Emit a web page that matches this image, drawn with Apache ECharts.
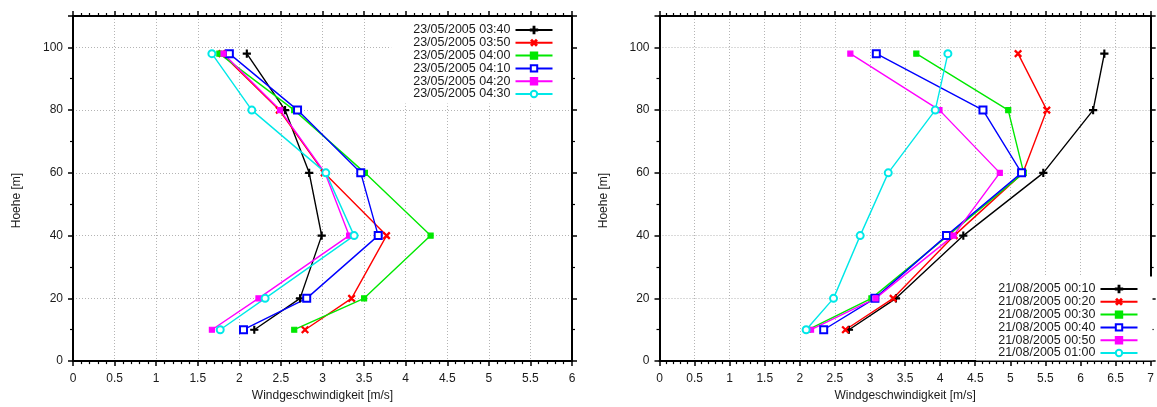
<!DOCTYPE html>
<html>
<head>
<meta charset="utf-8">
<script src="https://cdn.jsdelivr.net/npm/echarts@6/dist/echarts.min.js"></script>
<style>
  html, body { margin: 0; padding: 0; background: #fff; }
  #chart { width: 1157px; height: 407px; }
</style>
</head>
<body>
<div id="chart"></div>
<script>
// Measurement heights (m)
const HEIGHTS = [10, 20, 40, 60, 80, 98];

// 23/05/2005 wind speed profiles (m/s), one value per height
const MAY_LABELS = ['23/05/2005 03:40', '23/05/2005 03:50', '23/05/2005 04:00',
                    '23/05/2005 04:10', '23/05/2005 04:20', '23/05/2005 04:30'];
const MAY_0340 = [2.18, 2.73, 2.99, 2.84, 2.55, 2.09];
const MAY_0350 = [2.79, 3.35, 3.77, 3.02, 2.48, 1.79];
const MAY_0400 = [2.66, 3.50, 4.30, 3.51, 2.66, 1.76];
const MAY_0410 = [2.05, 2.81, 3.67, 3.46, 2.70, 1.88];
const MAY_0420 = [1.67, 2.23, 3.32, 3.03, 2.49, 1.81];
const MAY_0430 = [1.77, 2.31, 3.38, 3.04, 2.15, 1.67];

// 21/08/2005 wind speed profiles (m/s)
const AUG_LABELS = ['21/08/2005 00:10', '21/08/2005 00:20', '21/08/2005 00:30',
                    '21/08/2005 00:40', '21/08/2005 00:50', '21/08/2005 01:00'];
const AUG_0010 = [2.70, 3.37, 4.33, 5.47, 6.18, 6.34];
const AUG_0020 = [2.65, 3.33, 4.20, 5.18, 5.52, 5.11];
const AUG_0030 = [2.12, 3.02, 4.11, 5.19, 4.97, 3.66];
const AUG_0040 = [2.34, 3.07, 4.09, 5.16, 4.61, 3.09];
const AUG_0050 = [2.16, 3.08, 4.19, 4.85, 3.99, 2.72];
const AUG_0100 = [2.09, 2.48, 2.86, 3.26, 3.93, 4.11];

// Axis ranges and ticks
const Y_MIN = 0, Y_MAX = 110, Y_STEP = 20;
const X_LEFT_MAX = 6, X_RIGHT_MAX = 7, X_STEP = 0.5;

const X_NAME = 'Windgeschwindigkeit [m/s]';
const Y_NAME = 'Hoehe [m]';

// marker styles per series (gnuplot-like point types)
const PLUS = 'path://M0,4.35H10V5.65H0Z M4.35,0H5.65V10H4.35Z';
const STYLES = [
  { color: '#000000', symbol: PLUS, size: 7, rotate: 0 },
  { color: '#ff0000', symbol: PLUS, size: 8, rotate: 45 },
  { color: '#00e800', symbol: 'rect', size: 5, rotate: 0 },
  { color: '#0000ff', symbol: 'emptyRect', size: 7, rotate: 0 },
  { color: '#ff00ff', symbol: 'rect', size: 5, rotate: 0 },
  { color: '#00e8e8', symbol: 'emptyCircle', size: 7, rotate: 0 }
];

const FONT = 'Liberation Sans, Arial, sans-serif';
const TXT = '#1a1a1a';

function profileSeries(labels, values, gridIdx) {
  return values.map((arr, i) => ({
    type: 'line',
    name: labels[i],
    xAxisIndex: gridIdx * 2,
    yAxisIndex: gridIdx * 2,
    data: arr.map((v, k) => [v, HEIGHTS[k]]),
    symbol: STYLES[i].symbol,
    symbolSize: STYLES[i].size,
    symbolRotate: STYLES[i].rotate,
    symbolKeepAspect: true,
    showAllSymbol: true,
    animation: false,
    color: STYLES[i].color,
    lineStyle: { width: 1.4, color: STYLES[i].color },
    itemStyle: { color: STYLES[i].color, borderColor: STYLES[i].color, borderWidth: 1.2 }
  }));
}

function xAxes(gridIdx, max) {
  const common = {
    type: 'value', gridIndex: gridIdx, min: 0, max: max, interval: X_STEP,
    axisLine: { show: true, onZero: false, lineStyle: { color: '#000', width: 2 } },
    axisTick: { show: true, inside: false, length: 5, lineStyle: { color: '#000', width: 1.5 } },
    minorTick: { show: true, splitNumber: 5, length: 3, lineStyle: { color: '#000', width: 1.2 } }
  };
  return [
    Object.assign({}, common, {
      position: 'bottom',
      name: X_NAME, nameLocation: 'middle', nameGap: 28,
      nameTextStyle: { fontFamily: FONT, fontSize: 12, color: TXT },
      axisLabel: { margin: 12, fontFamily: FONT, fontSize: 12, color: TXT },
      splitLine: { show: true, lineStyle: { color: '#b4b4b4', width: 1, type: [1, 2] } }
    }),
    Object.assign({}, common, {
      position: 'top',
      axisLabel: { show: false },
      splitLine: { show: false }
    })
  ];
}

function yAxes(gridIdx) {
  const common = {
    type: 'value', gridIndex: gridIdx, min: Y_MIN, max: Y_MAX, interval: Y_STEP,
    axisLine: { show: true, onZero: false, lineStyle: { color: '#000', width: 2 } },
    axisTick: { show: true, inside: false, length: 5, lineStyle: { color: '#000', width: 1.5 } },
    minorTick: { show: true, splitNumber: 2, length: 3, lineStyle: { color: '#000', width: 1.2 } }
  };
  return [
    Object.assign({}, common, {
      position: 'left',
      name: Y_NAME, nameLocation: 'middle', nameGap: 50,
      nameTextStyle: { fontFamily: FONT, fontSize: 12, color: TXT, padding: [0, 24, 0, 0] },
      axisLabel: { margin: 10, fontFamily: FONT, fontSize: 12, color: TXT, showMaxLabel: false },
      splitLine: { show: true, lineStyle: { color: '#b4b4b4', width: 1, type: [1, 2] } }
    }),
    Object.assign({}, common, {
      position: 'right',
      axisLabel: { show: false },
      splitLine: { show: false }
    })
  ];
}

function legendFor(labels, place, padding) {
  return Object.assign({
    orient: 'vertical',
    align: 'right',
    data: labels,
    itemWidth: 37,
    itemHeight: 8,
    itemGap: -0.2,
    padding: padding,
    backgroundColor: '#ffffff',
    selectedMode: false,
    textStyle: { fontFamily: FONT, fontSize: 12.5, color: TXT, lineHeight: 11 }
  }, place);
}

const chart = echarts.init(document.getElementById('chart'), null, { renderer: 'canvas' });

chart.setOption({
  backgroundColor: '#ffffff',
  animation: false,
  grid: [
    { left: 73, top: 16, width: 499, height: 346 },
    { left: 659.5, top: 16, width: 494.5, height: 346 }
  ],
  xAxis: [].concat(xAxes(0, X_LEFT_MAX), xAxes(1, X_RIGHT_MAX)),
  yAxis: [].concat(yAxes(0), yAxes(1)),
  legend: [
    legendFor(MAY_LABELS, { right: 586.5, top: 17.5 }, [6, 17, 3, 22]),
    legendFor(AUG_LABELS, { right: 4.5, bottom: 46.5 }, [6, 14, 1, 22])
  ],
  series: [].concat(
    profileSeries(MAY_LABELS, [MAY_0340, MAY_0350, MAY_0400, MAY_0410, MAY_0420, MAY_0430], 0),
    profileSeries(AUG_LABELS, [AUG_0010, AUG_0020, AUG_0030, AUG_0040, AUG_0050, AUG_0100], 1)
  )
});
</script>
</body>
</html>
